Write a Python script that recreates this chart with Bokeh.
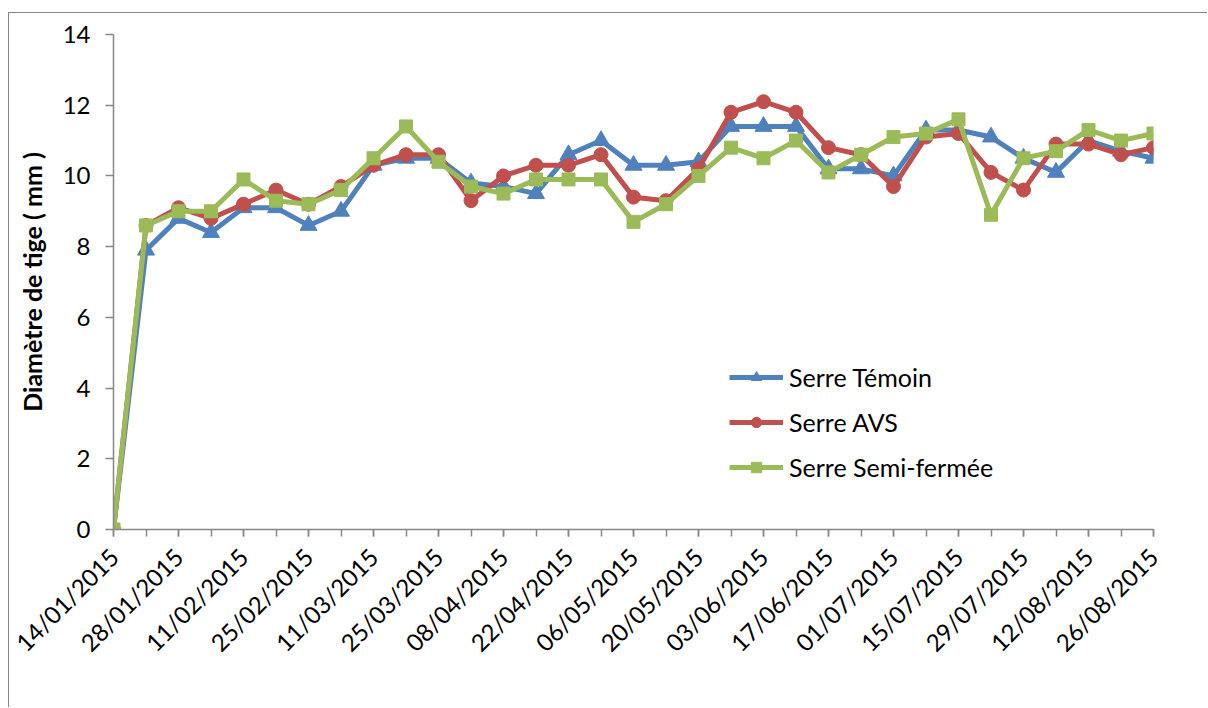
import math
import pandas as pd
from bokeh.plotting import figure
from bokeh.models import (Range1d, FixedTicker, DatetimeTickFormatter, Legend, LegendItem,
                          ColumnDataSource)
from bokeh.embed import file_html
from bokeh.resources import INLINE

dates = ["14/01/2015", "21/01/2015", "28/01/2015", "04/02/2015", "11/02/2015", "18/02/2015",
         "25/02/2015", "04/03/2015", "11/03/2015", "18/03/2015", "25/03/2015", "01/04/2015",
         "08/04/2015", "15/04/2015", "22/04/2015", "29/04/2015", "06/05/2015", "13/05/2015",
         "20/05/2015", "27/05/2015", "03/06/2015", "10/06/2015", "17/06/2015", "24/06/2015",
         "01/07/2015", "08/07/2015", "15/07/2015", "22/07/2015", "29/07/2015", "05/08/2015",
         "12/08/2015", "19/08/2015", "26/08/2015"]

serre_temoin = [0, 7.9, 8.8, 8.4, 9.1, 9.1, 8.6, 9.0, 10.3, 10.5, 10.5, 9.8, 9.7, 9.5, 10.6,
                11.0, 10.3, 10.3, 10.4, 11.4, 11.4, 11.4, 10.2, 10.2, 10.0, 11.3, 11.3, 11.1,
                10.5, 10.1, 11.0, 10.7, 10.5]
serre_avs = [0, 8.6, 9.1, 8.8, 9.2, 9.6, 9.2, 9.7, 10.3, 10.6, 10.6, 9.3, 10.0, 10.3, 10.3,
             10.6, 9.4, 9.3, 10.2, 11.8, 12.1, 11.8, 10.8, 10.6, 9.7, 11.1, 11.2, 10.1,
             9.6, 10.9, 10.9, 10.6, 10.8]
serre_semi = [0, 8.6, 9.0, 9.0, 9.9, 9.3, 9.2, 9.6, 10.5, 11.4, 10.4, 9.7, 9.5, 9.9, 9.9,
              9.9, 8.7, 9.2, 10.0, 10.8, 10.5, 11.0, 10.1, 10.6, 11.1, 11.2, 11.6, 8.9,
              10.5, 10.7, 11.3, 11.0, 11.2]

series_names = ["Serre Témoin", "Serre AVS", "Serre Semi-fermée"]
series_colors = ["#4F81BD", "#C0504D", "#9BBB59"]
series_markers = ["triangle", "circle", "square"]
series_sizes = [17, 14, 13]
y_ticks = [0, 2, 4, 6, 8, 10, 12, 14]

FONT = "Lato"
AX = "#868686"

dt = pd.to_datetime(dates, format="%d/%m/%Y")
xs = [(d - pd.Timestamp("1970-01-01")).total_seconds() * 1000.0 for d in dt]

p = figure(width=1199, height=695, output_backend="svg", toolbar_location=None,
           x_axis_type="datetime",
           x_range=Range1d(xs[0], xs[-1]), y_range=Range1d(0, 14),
           min_border_left=104, min_border_right=55, min_border_top=21, min_border_bottom=179)
p.margin = (12, 0, 0, 8)
p.styles = {"border-left": "1px solid #868686", "border-top": "1px solid #868686"}
p.outline_line_color = None
p.xgrid.visible = False
p.ygrid.visible = False

items = []
for vals, name, col, mk, sz in zip([serre_temoin, serre_avs, serre_semi], series_names,
                                  series_colors, series_markers, series_sizes):
    src = ColumnDataSource(dict(x=xs, y=vals))
    r1 = p.line("x", "y", source=src, line_color=col, line_width=5)
    r2 = p.scatter("x", "y", source=src, marker=mk, size=sz, fill_color=col, line_color=col)
    items.append(LegendItem(label=name, renderers=[r1, r2]))

legend = Legend(items=items, location=(616, 47), padding=0, margin=0, border_line_color=None,
                background_fill_alpha=0, glyph_width=54, glyph_height=26, label_height=26,
                spacing=15, label_standoff=6, label_text_font=FONT, label_text_font_size="25px",
                label_text_color="#000000")
p.add_layout(legend, "center")

# y axis
ya = p.yaxis[0]
ya.ticker = FixedTicker(ticks=y_ticks)
ya.axis_line_color = AX
ya.axis_line_width = 1.5
ya.major_tick_line_color = AX
ya.major_tick_line_width = 1.5
ya.major_tick_out = 8
ya.major_tick_in = 0
ya.minor_tick_line_color = None
ya.major_label_text_font = FONT
ya.major_label_text_font_size = "24px"
ya.major_label_text_color = "#000000"
ya.major_label_standoff = 15
ya.axis_label = "Diamètre de tige ( mm )"
ya.axis_label_text_font = FONT
ya.axis_label_text_font_style = "bold"
ya.axis_label_text_font_size = "25px"
ya.axis_label_text_color = "#000000"
ya.axis_label_standoff = 13

# x axis
xa = p.xaxis[0]
xa.ticker = FixedTicker(ticks=xs[::2], minor_ticks=xs)
fmt = "%d/%m/%Y"
xa.formatter = DatetimeTickFormatter(milliseconds=fmt, seconds=fmt, minsec=fmt, minutes=fmt,
                                     hourmin=fmt, hours=fmt, days=fmt, months=fmt, years=fmt)
xa.axis_line_color = AX
xa.axis_line_width = 1.5
xa.major_tick_line_color = AX
xa.major_tick_line_width = 1.5
xa.major_tick_out = 7
xa.major_tick_in = 0
xa.minor_tick_line_color = AX
xa.minor_tick_line_width = 1.5
xa.minor_tick_out = 7
xa.minor_tick_in = 0
xa.major_label_orientation = math.pi / 4
xa.major_label_text_font = FONT
xa.major_label_text_font_size = "24px"
xa.major_label_text_color = "#000000"
xa.major_label_standoff = 16

open("out.html", "w").write(file_html(p, INLINE))
